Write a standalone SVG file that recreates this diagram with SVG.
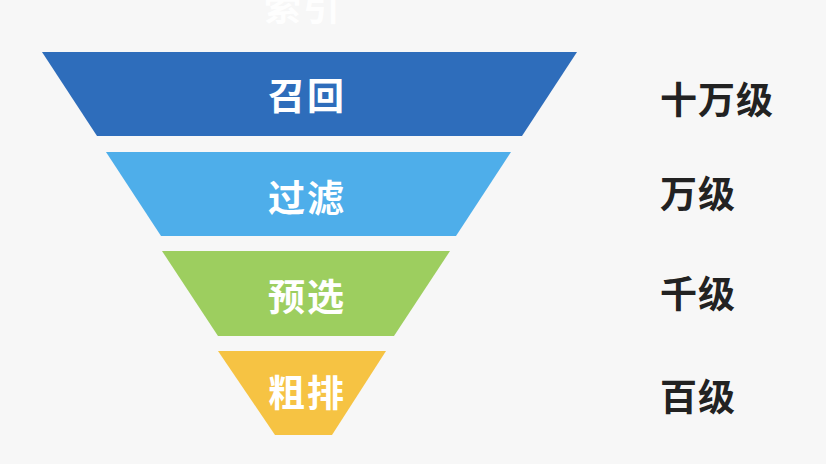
<svg xmlns="http://www.w3.org/2000/svg" width="826" height="464" viewBox="0 0 826 464">
<style>
.lbl{font-family:"Noto Sans CJK SC","Noto Sans",sans-serif;font-size:37px;font-weight:700;fill:#ffffff;text-anchor:middle;dominant-baseline:central;letter-spacing:2px}
.side{font-family:"Noto Sans CJK SC","Noto Sans",sans-serif;font-size:37px;font-weight:700;fill:#222222;text-anchor:start;dominant-baseline:central;letter-spacing:1px}
</style>
<rect width="826" height="464" fill="#f7f7f7"/>
<text class="lbl" x="303" y="5" style="opacity:0.9">索引</text>
<g id="recall">
<polygon points="42,52 577,52 522,136 97,136" fill="#2e6dbb"/>
<text class="lbl" x="307" y="94">召回</text>
</g>
<g id="filter">
<polygon points="106,152 511,152 456,236 161,236" fill="#4eaeea"/>
<text class="lbl" x="307" y="196">过滤</text>
</g>
<g id="preselect">
<polygon points="162,251 450,251 394,336 218,336" fill="#9dce5f"/>
<text class="lbl" x="307" y="295">预选</text>
</g>
<g id="coarse">
<polygon points="218,351 386,351 332,435 275,435" fill="#f6c343"/>
<text class="lbl" x="307" y="391">粗排</text>
</g>
<g id="labels">
<text class="side" x="660" y="98">十万级</text>
<text class="side" x="660" y="192">万级</text>
<text class="side" x="660" y="292">千级</text>
<text class="side" x="660" y="395">百级</text>
</g>
<g id="connectors"></g>
</svg>
